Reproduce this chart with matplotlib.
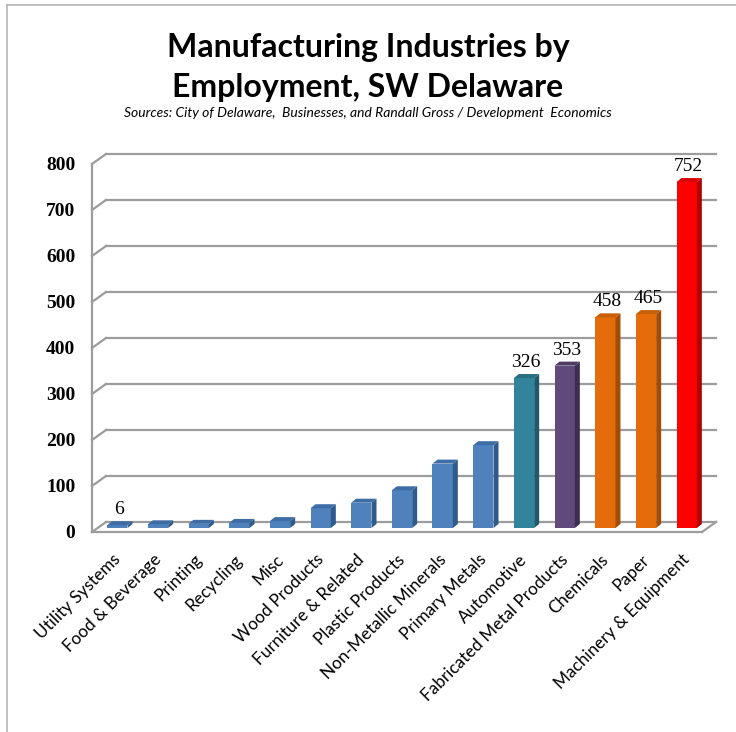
import numpy as np
import matplotlib.pyplot as plt
import matplotlib.transforms as mtransforms
from matplotlib.patches import Polygon
from matplotlib.lines import Line2D

industries = ["Utility Systems", "Food & Beverage", "Printing", "Recycling", "Misc",
              "Wood Products", "Furniture & Related", "Plastic Products",
              "Non-Metallic Minerals", "Primary Metals", "Automotive",
              "Fabricated Metal Products", "Chemicals", "Paper", "Machinery & Equipment"]
employment = [6, 8, 9, 11, 15, 43, 55, 82, 140, 180, 326, 353, 458, 465, 752]
show_value = [True, False, False, False, False, False, False, False, False, False,
              True, True, True, True, True]
y_ticks = [0, 100, 200, 300, 400, 500, 600, 700, 800]

blue, teal, purple, orange, red = "#4F81BD", "#31849B", "#604A7B", "#E46C0A", "#FF0000"
face = [blue] * 10 + [teal, purple, orange, orange, red]
dark = {blue: "#2F5A8C", teal: "#1F5A6A", purple: "#3C2E4F", orange: "#A24D07", red: "#B00000"}
top = {blue: "#3E6DA6", teal: "#27707F", purple: "#4E3C66", orange: "#C85E08", red: "#D80000"}

W, H = 736, 732
fig = plt.figure(figsize=(W / 100, H / 100), dpi=100)
fig.patch.set_facecolor("white")

# chart border (only top and left edges visible in the crop)
fig.add_artist(Line2D([7 / W, 7 / W], [0, 1 - 5 / H], color="#b5b5b5", lw=1.2))
fig.add_artist(Line2D([7 / W, 1], [1 - 5 / H, 1 - 5 / H], color="#b5b5b5", lw=1.2))

ax = fig.add_axes([92 / W, 200 / H, 610 / W, 368 / H])
x = np.arange(len(industries))
ax.set_xlim(-0.5, len(industries) - 0.5)
ax.set_ylim(0, 800)
ax.set_autoscale_on(False)

grid_c = "#9c9c9c"
depth = (14, 10)      # back wall offset, px
bar_off = (5, 4)      # bars sit a little behind the front plane
side = (5, 4)         # bar depth
width = 0.5
px = mtransforms.IdentityTransform()
back = mtransforms.offset_copy(ax.transData, fig=fig, x=depth[0], y=depth[1], units="dots")

xl = ax.get_xlim()
for v in y_ticks:
    ax.plot(xl, [v, v], transform=back, color=grid_c, lw=1.6, clip_on=False, zorder=1)
    x0, y0 = ax.transData.transform((xl[0], v))
    ax.plot([x0, x0 + depth[0]], [y0, y0 + depth[1]], transform=px,
            color=grid_c, lw=1.6, clip_on=False, zorder=1)
x1, y1 = ax.transData.transform((xl[1], 0))
ax.plot([x1, x1 + depth[0]], [y1, y1 + depth[1]], transform=px,
        color=grid_c, lw=1.6, clip_on=False, zorder=1)

bar_t = mtransforms.offset_copy(ax.transData, fig=fig, x=bar_off[0], y=bar_off[1], units="dots")
ax.bar(x, employment, width=width, color=face, transform=bar_t, zorder=3)

for xi, v, c, lab in zip(x, employment, face, show_value):
    xa, yb = ax.transData.transform((xi - width / 2, 0)) + np.array(bar_off)
    xb, yt = ax.transData.transform((xi + width / 2, v)) + np.array(bar_off)
    ax.add_patch(Polygon([(xb, yb), (xb + side[0], yb + side[1]), (xb + side[0], yt + side[1]), (xb, yt)],
                         closed=True, transform=px, facecolor=dark[c], edgecolor="none", zorder=3, clip_on=False))
    ax.add_patch(Polygon([(xa, yt), (xa + side[0], yt + side[1]), (xb + side[0], yt + side[1]), (xb, yt)],
                         closed=True, transform=px, facecolor=top[c], edgecolor="none", zorder=3, clip_on=False))
    if lab:
        ax.annotate(str(v), xy=(xi, v), xytext=(7, 11), textcoords="offset pixels",
                    ha="center", va="bottom", fontsize=14, family="Liberation Serif")

for s in ["top", "right"]:
    ax.spines[s].set_visible(False)
ax.spines["left"].set_color(grid_c)
ax.spines["left"].set_linewidth(1.6)
ax.spines["bottom"].set_color(grid_c)
ax.spines["bottom"].set_linewidth(1.6)

ax.set_yticks(y_ticks)
ax.tick_params(axis="y", length=0, pad=12, labelsize=14)
for t in ax.get_yticklabels():
    t.set_family("Liberation Serif")
    t.set_fontweight("bold")

ax.set_xticks(x)
ax.set_xticklabels(industries, rotation=45, ha="right", va="top", rotation_mode="anchor",
                   fontsize=12.3, family="Lato")
ax.tick_params(axis="x", length=0, pad=14)

fig.text(0.5, 1 - 57 / H, "Manufacturing Industries by", ha="center", va="baseline",
         fontsize=23, fontweight="bold", family="Lato")
fig.text(0.5, 1 - 97 / H, "Employment, SW Delaware", ha="center", va="baseline",
         fontsize=23, fontweight="bold", family="Lato")
fig.text(0.5, 1 - 113 / H,
         "Sources: City of Delaware,  Businesses, and Randall Gross / Development  Economics",
         ha="center", va="center", fontsize=10, style="italic", family="Lato")

fig.savefig("out.png", dpi=100)
